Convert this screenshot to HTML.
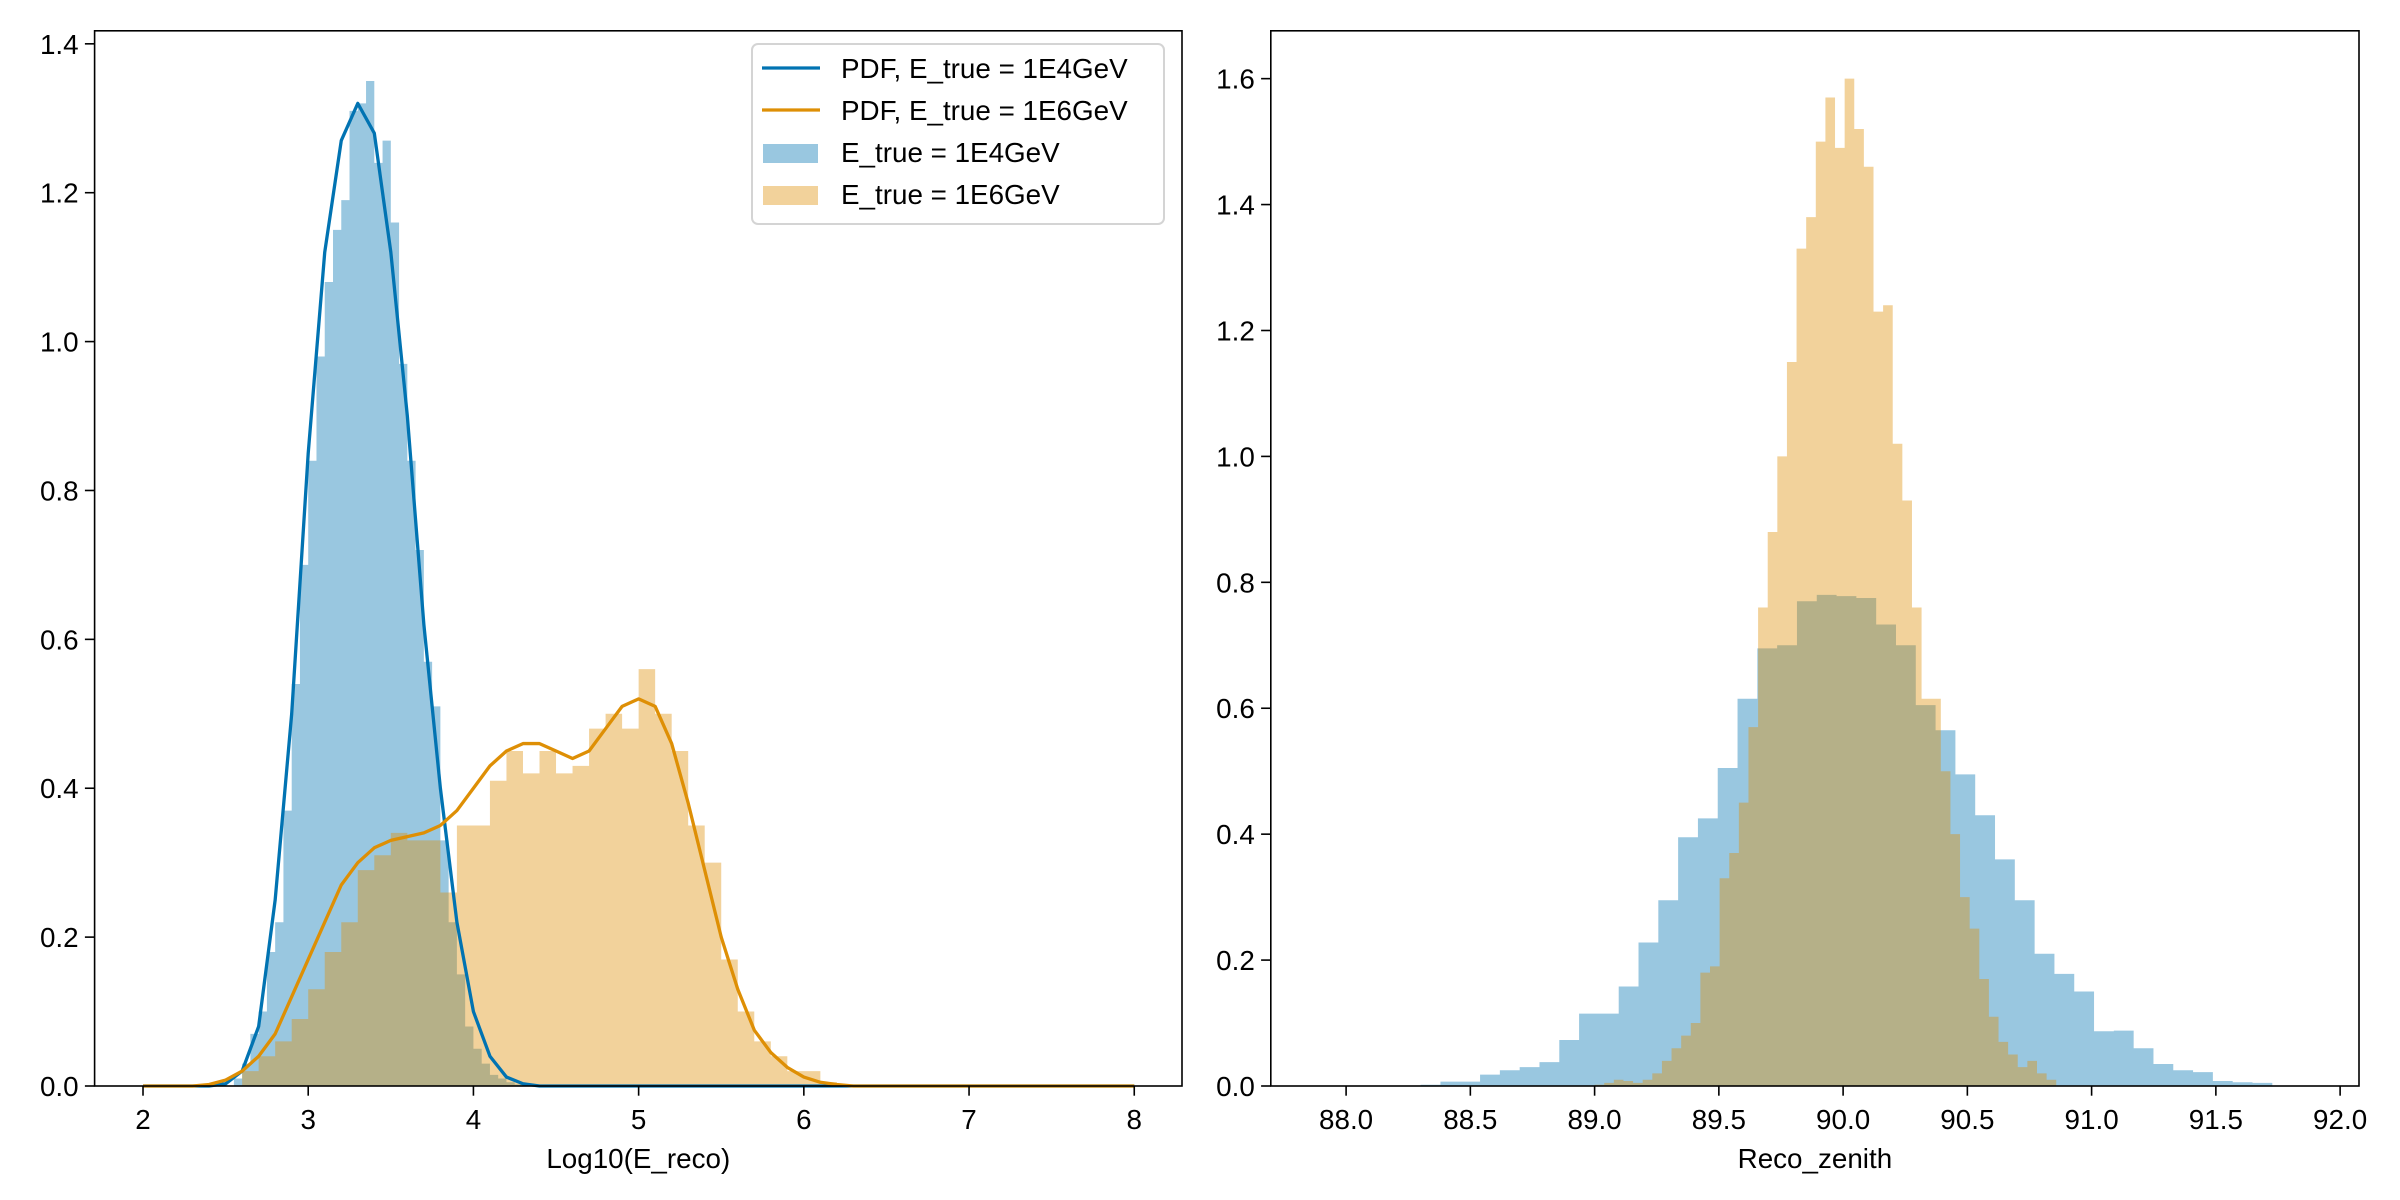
<!DOCTYPE html>
<html><head><meta charset="utf-8"><style>
html,body{margin:0;padding:0;background:#fff;}
svg{display:block;font-family:"Liberation Sans","DejaVu Sans",sans-serif;}
</style></head><body>
<svg id="chart" width="2400" height="1200" viewBox="0 0 2400 1200" xmlns="http://www.w3.org/2000/svg">
<rect width="2400" height="1200" fill="#fff"/>
<g id="left"></g>
<g id="right"></g>
<g id="legend">
  <rect x="752" y="44" width="412" height="180" rx="6" fill="#fff" fill-opacity="0.8" stroke="#d4d4d4" stroke-width="2"/>
  <line x1="762" x2="820" y1="68" y2="68" stroke="#0173b2" stroke-width="3.3"/>
  <text x="841" y="78" font-size="27.8">PDF, E_true = 1E4GeV</text>
  <line x1="762" x2="820" y1="110" y2="110" stroke="#de8f05" stroke-width="3.3"/>
  <text x="841" y="120" font-size="27.8">PDF, E_true = 1E6GeV</text>
  <rect x="763" y="144" width="55" height="19" fill="#0173b2" fill-opacity="0.4"/>
  <text x="841" y="162" font-size="27.8">E_true = 1E4GeV</text>
  <rect x="763" y="186" width="55" height="19" fill="#de8f05" fill-opacity="0.4"/>
  <text x="841" y="204" font-size="27.8">E_true = 1E6GeV</text>
</g>
</svg>
<script>
// ---- Left panel data ----
const leftBlueStart = 2.55, leftBlueWidth = 0.05;
const leftBlueValues = [0.01,0.03,0.07,0.10,0.18,0.22,0.37,0.54,0.70,0.84,0.98,1.08,1.15,1.19,1.31,1.32,1.35,1.24,1.27,1.16,0.97,0.84,0.72,0.57,0.51,0.33,0.22,0.15,0.08,0.05,0.03,0.015,0.01,0.005,0.002];
const leftOrangeStart = 2.6, leftOrangeWidth = 0.1;
const leftOrangeValues = [0.02,0.04,0.06,0.09,0.13,0.18,0.22,0.29,0.31,0.34,0.33,0.33,0.26,0.35,0.35,0.41,0.45,0.42,0.45,0.42,0.43,0.48,0.50,0.48,0.56,0.50,0.45,0.35,0.30,0.17,0.10,0.06,0.04,0.02,0.02,0.005];
const pdfX = [2.0,2.1,2.2,2.3,2.4,2.5,2.6,2.7,2.8,2.9,3.0,3.1,3.2,3.3,3.4,3.5,3.6,3.7,3.8,3.9,4.0,4.1,4.2,4.3,4.4,4.5,4.6,4.7,4.8,4.9,5.0,5.1,5.2,5.3,5.4,5.5,5.6,5.7,5.8,5.9,6.0,6.1,6.2,6.3,6.4,6.6,7.0,7.5,8.0];
const pdfBlue = [0,0,0,0,0,0.003,0.02,0.08,0.25,0.5,0.85,1.12,1.27,1.32,1.28,1.12,0.9,0.62,0.4,0.22,0.1,0.04,0.012,0.003,0,0,0,0,0,0,0,0,0,0,0,0,0,0,0,0,0,0,0,0,0,0,0,0,0];
const pdfOrange = [0,0,0,0,0.002,0.008,0.02,0.04,0.07,0.12,0.17,0.22,0.27,0.30,0.32,0.33,0.335,0.34,0.35,0.37,0.40,0.43,0.45,0.46,0.46,0.45,0.44,0.45,0.48,0.51,0.52,0.51,0.46,0.38,0.29,0.2,0.13,0.075,0.045,0.025,0.012,0.005,0.002,0,0,0,0,0,0];
const leftXTicks = [2,3,4,5,6,7,8];
const leftYTicks = [0,0.2,0.4,0.6,0.8,1.0,1.2,1.4];
// ---- Right panel data ----
const rightBlueStart = 88.30, rightBlueWidth = 0.0797;
const rightBlueValues = [0.002,0.007,0.007,0.018,0.025,0.03,0.038,0.073,0.115,0.115,0.158,0.228,0.295,0.395,0.425,0.505,0.615,0.695,0.70,0.77,0.78,0.778,0.775,0.733,0.70,0.605,0.565,0.495,0.43,0.36,0.295,0.21,0.178,0.15,0.087,0.088,0.06,0.035,0.025,0.022,0.008,0.006,0.005];
const rightOrangeStart = 89.0, rightOrangeWidth = 0.0387;
const rightOrangeValues = [0.002,0.005,0.01,0.008,0.005,0.01,0.02,0.04,0.06,0.08,0.10,0.18,0.19,0.33,0.37,0.45,0.57,0.76,0.88,1.0,1.15,1.33,1.38,1.5,1.57,1.49,1.6,1.52,1.46,1.23,1.24,1.02,0.93,0.76,0.615,0.615,0.5,0.4,0.3,0.25,0.17,0.11,0.07,0.05,0.03,0.04,0.02,0.01];
const rightXTicks = [88.0,88.5,89.0,89.5,90.0,90.5,91.0,91.5,92.0];
const rightYTicks = [0,0.2,0.4,0.6,0.8,1.0,1.2,1.4,1.6];

const NS = "http://www.w3.org/2000/svg";
function mk(parent, tag, attrs){const e=document.createElementNS(NS,tag);for(const k in attrs)e.setAttribute(k,attrs[k]);parent.appendChild(e);return e;}
const BLUE="#0173b2", ORANGE="#de8f05";

function panel(g, cfg){
  const sx=v=>cfg.px0+(v-cfg.x0)*(cfg.px1-cfg.px0)/(cfg.x1-cfg.x0);
  const sy=v=>cfg.py0-(v-cfg.y0)*(cfg.py0-cfg.py1)/(cfg.y1-cfg.y0);
  function hist(start,w,vals,color,name){
    let d="M"+sx(start).toFixed(2)+","+sy(0).toFixed(2);
    vals.forEach((v,i)=>{
      d+="L"+sx(start+i*w).toFixed(2)+","+sy(v).toFixed(2)+"L"+sx(start+(i+1)*w).toFixed(2)+","+sy(v).toFixed(2);
    });
    d+="L"+sx(start+vals.length*w).toFixed(2)+","+sy(0).toFixed(2)+"Z";
    const p=mk(g,"path",{d:d,fill:color,"fill-opacity":0.4,stroke:"none"});
    
    
  }
  hist(cfg.bS,cfg.bW,cfg.bV,BLUE,'blue-histogram');
  hist(cfg.oS,cfg.oW,cfg.oV,ORANGE,'orange-histogram');
  if(cfg.pdfs){
    cfg.pdfs.forEach(p=>{
      const d=cfg.pdfX.map((x,i)=>(i?"L":"M")+sx(x).toFixed(2)+","+sy(p.v[i]).toFixed(2)).join("");
      const l=mk(g,"path",{d:d,fill:"none",stroke:p.c,"stroke-width":3.3,"stroke-linejoin":"round"});
      
      
    });
  }
  const f=mk(g,"rect",{x:cfg.px0,y:cfg.py1,width:cfg.px1-cfg.px0,height:cfg.py0-cfg.py1,fill:"none",stroke:"#000","stroke-width":1.6});
  
  
  cfg.xt.forEach(t=>{
    const x=sx(t);
    const tk=mk(g,"line",{x1:x,x2:x,y1:cfg.py0,y2:cfg.py0+9.7,stroke:"#000","stroke-width":1.6});
    
    
    const tx=mk(g,"text",{x:x,y:cfg.py0+43,"text-anchor":"middle","font-size":27.8,fill:"#000"});
    tx.textContent=cfg.xf(t);
    
    
  });
  cfg.yt.forEach(t=>{
    const y=sy(t);
    const tk=mk(g,"line",{x1:cfg.px0-9.7,x2:cfg.px0,y1:y,y2:y,stroke:"#000","stroke-width":1.6});
    
    
    const tx=mk(g,"text",{x:cfg.px0-16,y:y+10,"text-anchor":"end","font-size":27.8,fill:"#000"});
    tx.textContent=t.toFixed(1);
    
    
  });
  const xl=mk(g,"text",{x:(cfg.px0+cfg.px1)/2,y:cfg.py0+82,"text-anchor":"middle","font-size":27.8,fill:"#000"});
  xl.textContent=cfg.xlabel;
  
  
}

panel(document.getElementById('left'),{px0:94.6,px1:1182,py0:1086,py1:30.8,x0:1.707,x1:8.289,y0:0,y1:1.4175,
  bS:leftBlueStart,bW:leftBlueWidth,bV:leftBlueValues,oS:leftOrangeStart,oW:leftOrangeWidth,oV:leftOrangeValues,
  pdfX:pdfX,pdfs:[{v:pdfBlue,c:BLUE,n:'pdf-line-1e4'},{v:pdfOrange,c:ORANGE,n:'pdf-line-1e6'}],
  xt:leftXTicks,yt:leftYTicks,xf:t=>String(t),xlabel:"Log10(E_reco)"});
panel(document.getElementById('right'),{px0:1270.8,px1:2359,py0:1086,py1:30.8,x0:87.697,x1:92.076,y0:0,y1:1.676,
  bS:rightBlueStart,bW:rightBlueWidth,bV:rightBlueValues,oS:rightOrangeStart,oW:rightOrangeWidth,oV:rightOrangeValues,
  xt:rightXTicks,yt:rightYTicks,xf:t=>t.toFixed(1),xlabel:"Reco_zenith"});
</script>
</body></html>
